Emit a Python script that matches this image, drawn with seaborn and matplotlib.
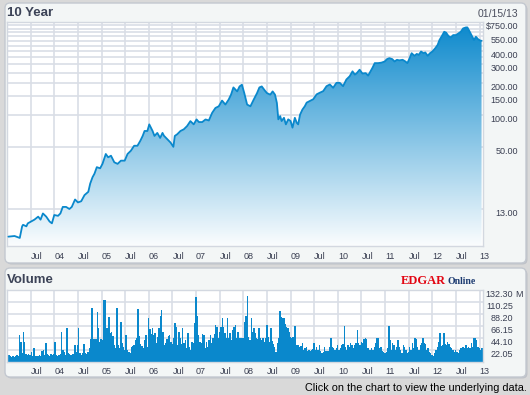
import numpy as np
import matplotlib
matplotlib.use('Agg')
import matplotlib.pyplot as plt
import seaborn as sns
from matplotlib.patches import FancyBboxPatch
from matplotlib.colors import LinearSegmentedColormap
from matplotlib.ticker import NullLocator

# closing price (decimal year, $)
price_years = [
    2003.03, 2003.16, 2003.27, 2003.32, 2003.34, 2003.41, 2003.44, 2003.51, 2003.58, 2003.66,
    2003.71, 2003.76, 2003.83, 2003.90, 2003.95, 2004.00, 2004.08, 2004.13, 2004.18, 2004.25,
    2004.32, 2004.37, 2004.44, 2004.50, 2004.57, 2004.64, 2004.72, 2004.76, 2004.81, 2004.85,
    2004.90, 2004.97, 2005.02, 2005.09, 2005.14, 2005.20, 2005.27, 2005.34, 2005.41, 2005.49,
    2005.55, 2005.62, 2005.69, 2005.76, 2005.82, 2005.87, 2005.91, 2005.97, 2006.01, 2006.08,
    2006.12, 2006.18, 2006.24, 2006.29, 2006.32, 2006.39, 2006.46, 2006.52, 2006.55, 2006.60,
    2006.67, 2006.74, 2006.81, 2006.88, 2006.95, 2007.01, 2007.06, 2007.13, 2007.20, 2007.27,
    2007.34, 2007.41, 2007.48, 2007.55, 2007.62, 2007.69, 2007.74, 2007.79, 2007.87, 2007.92,
    2007.97, 2008.02, 2008.08, 2008.15, 2008.22, 2008.29, 2008.34, 2008.39, 2008.46, 2008.50,
    2008.57, 2008.62, 2008.67, 2008.71, 2008.74, 2008.78, 2008.81, 2008.86, 2008.90, 2008.95,
    2009.00, 2009.04, 2009.09, 2009.13, 2009.16, 2009.20, 2009.25, 2009.30, 2009.34, 2009.41,
    2009.48, 2009.55, 2009.62, 2009.69, 2009.76, 2009.83, 2009.90, 2009.97, 2010.04, 2010.11,
    2010.18, 2010.25, 2010.31, 2010.36, 2010.40, 2010.46, 2010.52, 2010.59, 2010.64, 2010.69,
    2010.73, 2010.78, 2010.85, 2010.92, 2010.99, 2011.04, 2011.09, 2011.15, 2011.20, 2011.25,
    2011.30, 2011.37, 2011.43, 2011.47, 2011.51, 2011.56, 2011.62, 2011.67, 2011.71, 2011.76,
    2011.81, 2011.85, 2011.90, 2011.95, 2012.00, 2012.06, 2012.11, 2012.15, 2012.20, 2012.25,
    2012.29, 2012.34, 2012.39, 2012.44, 2012.50, 2012.55, 2012.60, 2012.65, 2012.71, 2012.74,
    2012.79, 2012.85, 2012.88, 2012.92, 2012.97, 2013.02, 2013.04,
]
price = [
    7.2, 7.3, 7.0, 9.0, 9.3, 9.0, 9.6, 10.0, 10.4, 11.1,
    10.4, 11.9, 11.1, 10.0, 9.6, 11.5, 11.3, 11.9, 13.7, 13.7,
    13.1, 13.7, 16.1, 15.1, 15.5, 17.7, 19.0, 22.7, 26.1, 28.1,
    32.4, 31.6, 34.8, 43.1, 40.1, 41.5, 36.0, 34.8, 37.3, 37.3,
    43.1, 46.2, 51.5, 51.5, 57.3, 63.7, 70.9, 70.9, 81.8, 70.9,
    63.7, 68, 61, 68, 64, 59.4, 55.2, 50.3, 63.7, 66,
    70.9, 73.5, 78.9, 87.8, 81.8, 91.1, 86, 86, 91, 89,
    105, 116.7, 121, 136.9, 125.6, 140, 155.7, 182, 167, 186,
    193, 161, 125.6, 121, 140, 161, 182, 186, 169, 161,
    155.7, 167, 155.7, 130, 91.2, 97.8, 87.9, 94.3, 81.8, 91.2,
    87.9, 76.2, 94.3, 84.7, 81.8, 101, 112.7, 121, 131, 136,
    141, 156.6, 162.5, 168, 187, 194, 180.6, 201, 201, 187,
    216, 231.8, 257.8, 240, 248, 267, 246, 248, 235, 257,
    277, 308, 308, 311, 319, 336, 343, 336, 319, 331,
    327, 331, 319, 308, 336, 382, 361, 376, 368, 396,
    382, 388, 361, 382, 396, 425, 456, 508, 553, 607,
    596, 553, 538, 565, 565, 586, 607, 653, 667, 667,
    607, 538, 508, 545, 515, 500, 500,
]

# volume in millions, Jan 2003 - Dec 2007 and Dec 2007 - Jan 2013
vol_2003_2007 = [
    11.0, 12.3, 9.8, 9.2, 10.4, 9.2, 11.0, 12.3, 10.4, 49.0, 36.8, 15.3, 53.9, 35.5, 13.5,
    12.3, 14.7, 12.3, 18.4, 11.0, 25.7, 11.0, 9.8, 11.0, 12.3, 9.8, 19.6, 20.8, 12.3, 33.7,
    13.5, 12.3, 11.0, 13.5, 12.3, 14.7, 35.5, 12.3, 11.0, 12.3, 13.5, 53.9, 20.8, 18.4, 12.3,
    62.5, 15.3, 13.5, 12.3, 13.5, 14.7, 30.6, 18.4, 30.6, 61.3, 15.3, 12.3, 15.3, 31.9, 15.9,
    14.7, 18.4, 24.5, 41.7, 99.2, 41.7, 41.7, 41.7, 91.9, 61.3, 36.8, 41.7, 39.8, 113.3, 113.3,
    61.3, 61.3, 82.7, 52.1, 55.1, 47.8, 30.6, 25.7, 98.0, 30.6, 25.7, 73.5, 33.7, 27.6, 21.4,
    49.0, 21.4, 18.4, 15.3, 27.6, 29.4, 30.6, 39.8, 42.9, 96.8, 47.8, 31.9, 29.4, 24.5, 39.8,
    49.0, 27.6, 80.9, 60.0, 50.2, 62.5, 49.0, 52.1, 33.7, 45.9, 61.3, 84.5, 94.9, 55.1, 30.6,
    33.7, 41.7, 47.8, 49.0, 36.8, 31.9, 42.9, 70.4, 64.3, 30.6, 55.1, 42.9, 31.9, 61.3, 33.7,
    39.8, 24.5, 52.1, 27.6, 21.4, 36.8, 33.7, 70.4, 119.4, 84.5, 49.0, 36.8, 33.7, 50.2, 49.0,
    24.5, 36.8, 27.6, 39.8, 49.0, 33.7, 42.9, 50.2, 67.4, 64.3, 42.9, 55.1, 64.3, 79.6, 64.3,
    52.1, 42.9, 79.6, 44.1, 52.1, 39.8, 58.2, 64.3, 67.4, 42.9, 55.1, 44.1,
]
vol_2008_2013 = [
    44.1, 44.1, 42.9, 73.5, 84.5, 121.3, 45.9, 39.8, 79.6, 55.1, 62.5, 52.1, 42.9, 41.7, 61.3,
    42.9, 39.8, 42.9, 36.8, 42.9, 67.4, 45.9, 36.8, 61.3, 38.0, 31.9, 27.6, 18.4, 33.7, 44.1,
    93.1, 82.7, 79.6, 80.9, 68.6, 64.3, 61.3, 55.1, 45.9, 42.9, 45.9, 66.2, 66.2, 30.6, 30.6,
    27.6, 29.4, 33.7, 21.4, 24.5, 27.6, 19.6, 21.4, 19.6, 21.4, 23.3, 33.7, 21.4, 27.6, 21.4,
    30.6, 19.6, 15.3, 18.4, 27.6, 19.6, 19.6, 19.6, 27.6, 42.9, 27.6, 24.5, 21.4, 24.5, 30.6,
    21.4, 24.5, 30.6, 31.9, 66.2, 27.6, 21.4, 30.6, 27.6, 33.7, 30.6, 24.5, 30.6, 33.7, 58.2,
    33.7, 30.6, 36.8, 33.7, 41.7, 42.9, 41.7, 24.5, 21.4, 21.4, 24.5, 21.4, 27.6, 33.7, 44.1,
    42.9, 24.5, 27.6, 19.6, 18.4, 15.3, 17.2, 25.7, 66.2, 39.8, 21.4, 33.7, 30.6, 21.4, 27.6,
    39.8, 27.6, 21.4, 15.3, 30.6, 27.6, 21.4, 15.3, 18.4, 27.6, 21.4, 33.7, 24.5, 42.9, 41.7,
    27.6, 21.4, 30.6, 33.7, 42.9, 33.7, 31.9, 21.4, 24.5, 18.4, 15.3, 12.3, 11.0, 15.3, 21.4,
    27.6, 36.8, 52.1, 29.4, 30.6, 52.1, 31.9, 30.6, 36.8, 31.9, 27.6, 24.5, 21.4, 18.4, 21.4,
    18.4, 15.3, 21.4, 25.7, 27.6, 27.6, 24.5, 30.6, 24.5, 27.6, 25.7, 33.7, 27.6, 42.9, 44.1,
    39.8, 27.6, 24.5, 21.4, 25.7,
]

x_ticks = [2003.5 + 0.5 * i for i in range(20)]
x_labels = ['Jul', '04', 'Jul', '05', 'Jul', '06', 'Jul', '07', 'Jul', '08',
            'Jul', '09', 'Jul', '10', 'Jul', '11', 'Jul', '12', 'Jul', '13']
price_grid = [13, 50, 100, 150, 200, 250, 300, 350, 400, 450, 500, 550, 600, 650, 700, 750]
price_ticks = [750, 550, 400, 300, 200, 150, 100, 50, 13]
price_tick_labels = ['$750.00', '550.00', '400.00', '300.00', '200.00', '150.00', '100.00', '50.00', '13.00']
vol_ticks = [22.05, 44.10, 66.15, 88.20, 110.25, 132.30]
vol_tick_labels = ['22.05', '44.10', '66.15', '88.20', '110.25', '132.30']

BLUE = '#0a88cc'
GRID = '#d9dee6'
TXT = '#3a3f52'

sns.set_theme(style='white')
plt.rcParams['font.family'] = ['Liberation Sans', 'DejaVu Sans']

W, H = 530, 395
fig = plt.figure(figsize=(W / 100, H / 100), dpi=100)
fig.patch.set_facecolor('#d9d9d9')


def px_rect(x0, y0, x1, y1):
    return [x0 / W, 1 - y1 / H, (x1 - x0) / W, (y1 - y0) / H]


# the two rounded panels, with a faint shadow
for x0, y0, x1, y1 in [(5, 3, 526, 263), (5, 268, 526, 377)]:
    fig.add_artist(FancyBboxPatch(((x0 + 1.5) / 100, (H - y1 - 1.5) / 100), (x1 - x0) / 100,
                                  (y1 - y0) / 100, boxstyle='round,pad=0,rounding_size=0.05',
                                  transform=fig.dpi_scale_trans, facecolor='#bfc2c8',
                                  edgecolor='none', zorder=-2))
    fig.add_artist(FancyBboxPatch((x0 / 100, (H - y1) / 100), (x1 - x0) / 100, (y1 - y0) / 100,
                                  boxstyle='round,pad=0,rounding_size=0.05',
                                  transform=fig.dpi_scale_trans, facecolor='#f3f6f6',
                                  edgecolor='#c3c8d0', linewidth=1, zorder=-1))

ax = fig.add_axes(px_rect(7, 22, 482.5, 246))
axv = fig.add_axes(px_rect(7, 289.7, 482.5, 361.5))

# price panel
poly = ax.fill_between(price_years, price, 1, facecolor='none', edgecolor='none')
grad = np.linspace(1, 0, 256).reshape(-1, 1)
cmap = LinearSegmentedColormap.from_list('fade', ['#fbfdfe', '#0a88cc'])
im = ax.imshow(grad, cmap=cmap, aspect='auto', extent=[0, 1, 0, 1],
               transform=ax.transAxes, origin='upper', zorder=2)
im.set_clip_path(poly.get_paths()[0], transform=ax.transData)
sns.lineplot(x=price_years, y=price, ax=ax, color=BLUE, linewidth=1.3,
             estimator=None, sort=False, zorder=3)

ax.set_yscale('log')
ax.set_xlim(2003.0, 2013.06)
ax.set_ylim(5.88, 750)
ax.set_yticks(price_grid)
ax.set_yticklabels([])
ax.yaxis.set_minor_locator(NullLocator())
for v, t in zip(price_ticks, price_tick_labels):
    ax.text(1.0747, v, t, transform=ax.get_yaxis_transform(), ha='right', va='top',
            fontsize=6.5, color=TXT)

# volume panel
for vals, start, end in [(vol_2003_2007, 2003.0, 2007.93), (vol_2008_2013, 2007.93, 2013.06)]:
    xs = np.linspace(start, end, len(vals) + 1)
    axv.bar(xs[:-1], vals, width=(xs[1] - xs[0]) * 1.05, align='edge', color=BLUE,
            linewidth=0, zorder=2)
axv.set_xlim(2003.0, 2013.06)
axv.set_ylim(0, 132.3)
axv.set_yticks(vol_ticks)
axv.set_yticklabels([])
for v, t in zip(vol_ticks, vol_tick_labels):
    axv.text(1.0641, v, t, transform=axv.get_yaxis_transform(), ha='right', va='top',
             fontsize=6.5, color=TXT)
axv.text(1.0695, 132.3, 'M', transform=axv.get_yaxis_transform(), ha='left', va='top',
         fontsize=6.5, color=TXT)

for a in (ax, axv):
    a.set_facecolor('white')
    a.set_xticks(x_ticks)
    a.set_xticklabels(x_labels)
    for lbl in a.get_xticklabels():
        lbl.set_ha('left')
    a.tick_params(axis='both', length=0, labelsize=6.5, labelcolor=TXT)
    a.tick_params(axis='x', pad=4)
    a.grid(True, color=GRID, linewidth=1.2, zorder=0)
    a.set_axisbelow(True)
    a.set_xlabel('')
    a.set_ylabel('')
    for s in a.spines.values():
        s.set_color('#d3d8e0')
        s.set_linewidth(1)

# titles and captions
fig.text(7 / W, 1 - 13 / H, '10 Year', fontsize=9.5, fontweight='bold', color='#3c4357',
         ha='left', va='center')
fig.text(7 / W, 1 - 280 / H, 'Volume', fontsize=9.5, fontweight='bold', color='#3c4357',
         ha='left', va='center')
fig.text(518 / W, 1 - 14 / H, '01/15/13', fontsize=7.5, color='#4a4e5e', ha='right', va='center')
fig.text(401 / W, 1 - 283.5 / H, 'EDGAR', family=['Liberation Serif', 'DejaVu Serif'],
         fontweight='bold', fontsize=9, color='#e30613', ha='left', va='baseline')
fig.text(448 / W, 1 - 283.5 / H, 'Online', family=['Liberation Serif', 'DejaVu Serif'],
         fontweight='bold', fontsize=7, color='#1b3a70', ha='left', va='baseline')
fig.text(527 / W, 1 - 388 / H, 'Click on the chart to view the underlying data.',
         fontsize=7.8, color='black', ha='right', va='center')

fig.savefig('out.png', dpi=100, facecolor=fig.get_facecolor())
